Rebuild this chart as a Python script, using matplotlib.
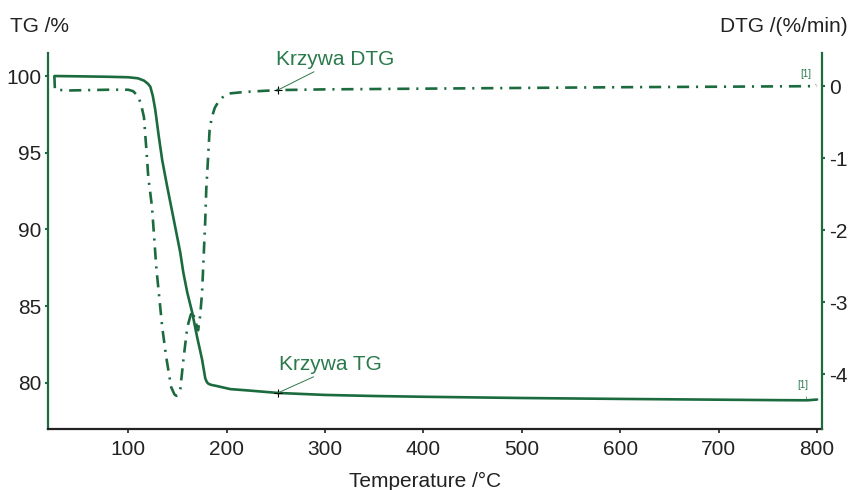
import matplotlib
matplotlib.use("Agg")
import matplotlib.pyplot as plt

# TG curve (mass %)
tg_temp = [25, 50, 80, 100, 110, 116, 120, 122.5, 125, 127.5, 131, 134.6, 139.6, 145.8, 152.9,
           156, 160, 165, 170, 175, 178.3, 180, 181.5, 184, 190, 203.7, 224, 252,
           300, 350, 400, 500, 600, 700, 760, 790, 800]
tg_val = [100.0, 99.98, 99.95, 99.92, 99.85, 99.7, 99.5, 99.3, 98.7, 97.8, 96.1, 94.5, 92.8, 90.8, 88.5,
          87.2, 85.9, 84.6, 83.0, 81.55, 80.3, 80.05, 79.95, 79.88, 79.8, 79.6, 79.5, 79.35,
          79.22, 79.15, 79.1, 79.02, 78.96, 78.91, 78.88, 78.87, 78.92]

# DTG curve (%/min)
dtg_temp = [25, 25.5, 40, 80, 100, 105, 110, 113, 116, 118.3, 120.4, 124.2, 128.5, 134.6, 138.6,
            143.7, 147, 149, 151, 153, 156, 160, 163, 165, 168, 171, 173, 175, 176.5, 178.3,
            179.3, 181, 182.7, 185, 188, 191.5, 197, 204, 219, 252, 300, 400, 500, 600, 700, 800]
dtg_val = [0.14, -0.05, -0.06, -0.05, -0.05, -0.07, -0.14, -0.25, -0.43, -0.85, -1.26, -1.68, -2.51, -3.35, -3.76,
           -4.18, -4.28, -4.3, -4.27, -4.2, -3.81, -3.35, -3.2, -3.12, -3.25, -3.39, -3.2, -2.88, -2.42, -1.86,
           -1.44, -1.03, -0.61, -0.43, -0.3, -0.22, -0.14, -0.1, -0.08, -0.055, -0.045, -0.035, -0.025, -0.015, -0.008, 0.0]

x_ticks = [100, 200, 300, 400, 500, 600, 700, 800]
tg_ticks = [80, 85, 90, 95, 100]
dtg_ticks = [0, -1, -2, -3, -4]

mark_temp = 252

green = "#1b6b3f"
text_green = "#2a7a4c"
dark = "#222222"

plt.rcParams['font.family'] = ['Liberation Sans', 'DejaVu Sans']
plt.rcParams['axes.unicode_minus'] = False
fs = 15

fig = plt.figure(figsize=(8.5, 4.9), dpi=100)
ax = fig.add_axes([48 / 850, 1 - 429 / 490, 774 / 850, 376 / 490])
ax2 = ax.twinx()

ax.plot(tg_temp, tg_val, color=green, lw=1.9, solid_capstyle='round')
ax2.plot(dtg_temp, dtg_val, color=green, lw=1.9, dashes=(4.6, 2.6, 0.8, 2.6))

ax.set_xlim(18.5, 805)
ax.set_ylim(77.0, 101.5)
ax2.set_ylim(-4.76, 0.46)

ax.set_xticks(x_ticks)
ax.set_yticks(tg_ticks)
ax2.set_yticks(dtg_ticks)

for a in (ax, ax2):
    a.spines['top'].set_visible(False)
    a.patch.set_visible(False)
ax.spines['left'].set_color(green)
ax.spines['left'].set_linewidth(1.6)
ax.spines['right'].set_visible(False)
ax.spines['bottom'].set_color(dark)
ax.spines['bottom'].set_linewidth(1.6)
ax2.spines['right'].set_color(green)
ax2.spines['right'].set_linewidth(1.6)
ax2.spines['left'].set_visible(False)
ax2.spines['bottom'].set_visible(False)

ax.tick_params(axis='x', length=3, width=1.2, color=dark, labelsize=fs, labelcolor=dark, pad=5)
ax.tick_params(axis='y', length=2, width=1.5, color=green, labelsize=fs, labelcolor=dark, pad=3)
ax2.tick_params(axis='y', length=2, width=1.5, color=green, labelsize=fs, labelcolor=dark, pad=3)

# annotations
tg_mark = 79.35
dtg_mark = -0.055
ax.plot([mark_temp], [tg_mark], marker='+', color='black', ms=6, mew=0.8)
ax2.plot([mark_temp], [dtg_mark], marker='+', color='black', ms=6, mew=0.8)

ax.annotate("Krzywa TG", xy=(mark_temp, tg_mark), xytext=(305, 81.2),
            ha='center', va='center', fontsize=fs, color=text_green,
            arrowprops=dict(arrowstyle='-', color=text_green, lw=0.7,
                            shrinkA=0, shrinkB=0, relpos=(0.4, 0.0)))
ax2.annotate("Krzywa DTG", xy=(mark_temp, dtg_mark), xytext=(310, 0.37),
             ha='center', va='center', fontsize=fs, color=text_green,
             arrowprops=dict(arrowstyle='-', color=text_green, lw=0.7,
                             shrinkA=0, shrinkB=0, relpos=(0.37, 0.0)))

ax2.annotate("[1]", xy=(dtg_temp[-1], dtg_val[-1]), xytext=(-8, 9), textcoords='offset points',
             ha='center', va='center', fontsize=7, color=text_green,
             arrowprops=dict(arrowstyle='-', color=text_green, lw=0.5, shrinkA=3, shrinkB=1))
ax.annotate("[1]", xy=(tg_temp[-2], tg_val[-2]), xytext=(-3, 11), textcoords='offset points',
            ha='center', va='center', fontsize=7, color=text_green,
            arrowprops=dict(arrowstyle='-', color=text_green, lw=0.5, shrinkA=3, shrinkB=1))

fig.text(10 / 850, 1 - 27 / 490, "TG /%", ha='left', va='center', fontsize=fs, color=dark)
fig.text(848 / 850, 1 - 27 / 490, "DTG /(%/min)", ha='right', va='center', fontsize=fs, color=dark)
fig.text(425 / 850, 1 - 481 / 490, "Temperature /°C", ha='center', va='center', fontsize=fs, color=dark)

fig.savefig("out.png", dpi=100)
